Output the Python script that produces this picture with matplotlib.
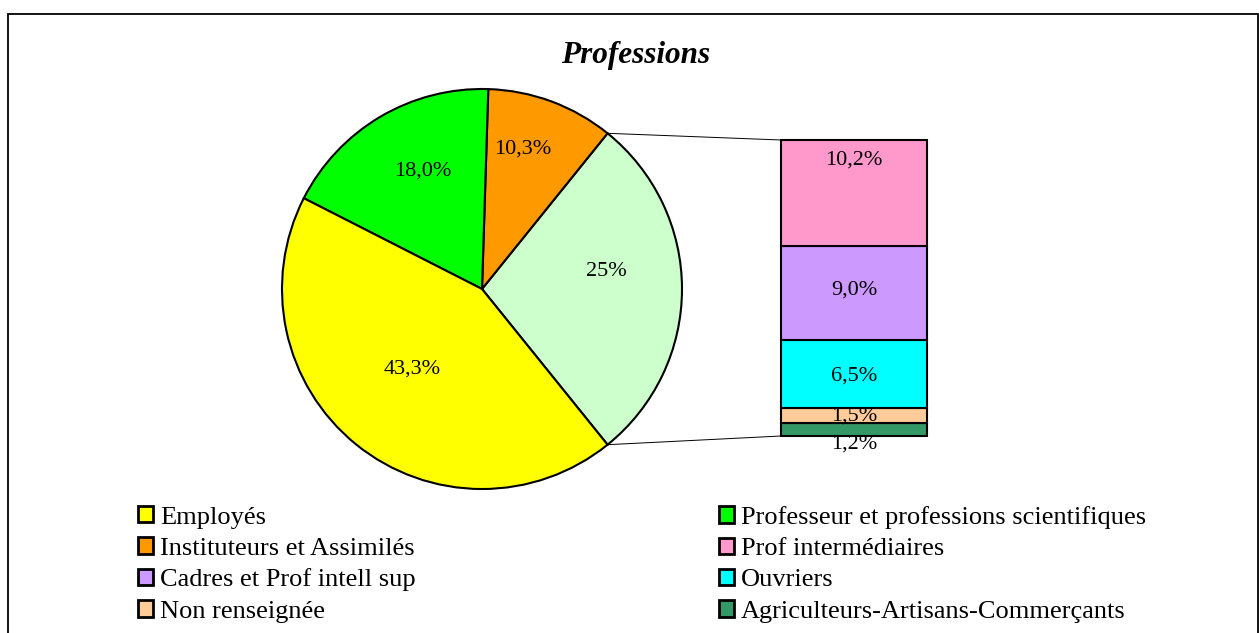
import matplotlib.pyplot as plt
from matplotlib.patches import Patch, Rectangle, ConnectionPatch
import numpy as np

plt.rcParams['font.family'] = ['Liberation Serif', 'DejaVu Serif']

# Pie: "other" slice first, then counter-clockwise
pie_names = ["Autres", "Instituteurs et Assimilés", "Professeur et professions scientifiques", "Employés"]
pie_values = [28.4, 10.3, 18.0, 43.3]
pie_labels = ["25%", "10,3%", "18,0%", "43,3%"]
pie_colors = ["#CCFFCC", "#FF9900", "#00FF00", "#FFFF00"]

# Bar of the "other" slice, bottom to top
bar_names = ["Agriculteurs-Artisans-Commerçants", "Non renseignée", "Ouvriers",
             "Cadres et Prof intell sup", "Prof intermédiaires"]
bar_values = [1.2, 1.5, 6.5, 9.0, 10.2]
bar_labels = ["1,2%", "1,5%", "6,5%", "9,0%", "10,2%"]
bar_colors = ["#339966", "#FFCC99", "#00FFFF", "#CC99FF", "#FF99CC"]

W, H = 1259, 633
fig = plt.figure(figsize=(W / 100, H / 100), dpi=100)

# outer frame (bottom edge runs off the image)
fig.patches.append(Rectangle((8 / W, -0.05), 1250 / W, 1.05 - 14 / H, transform=fig.transFigure,
                             fill=False, edgecolor="black", linewidth=1.3))

fig.text(636 / W, 1 - 55 / H, "Professions", ha="center", va="center",
         fontsize=22.5, fontweight="bold", fontstyle="italic")

# pie
ax = fig.add_axes([282 / W, (H - 489) / H, 400 / W, 400 / H])
start = -pie_values[0] * 3.6 / 2
wedges, _ = ax.pie(pie_values, colors=pie_colors, startangle=start, counterclock=True,
                   wedgeprops=dict(edgecolor="black", linewidth=1.5))
ax.set_xlim(-1, 1)
ax.set_ylim(-1, 1)
ax.set_aspect("equal")
ax.axis("off")

lab_r = [0.63, 0.73, 0.66, 0.53]
lab_da = [8, 4, -4, -2]
for w, txt, r, da in zip(wedges, pie_labels, lab_r, lab_da):
    a = np.deg2rad((w.theta1 + w.theta2) / 2 + da)
    ax.text(r * np.cos(a), r * np.sin(a), txt, ha="center", va="center", fontsize=16)

# stacked bar
bx = fig.add_axes([781 / W, (H - 436) / H, 146 / W, 296 / H])
total = sum(bar_values)
bottom = 0
lab_off = [-14, 0, -2, 3, 33]
for v, c, txt, off in zip(bar_values, bar_colors, bar_labels, lab_off):
    bx.bar(0, v, width=1, bottom=bottom, color=c, edgecolor="black", linewidth=1.5, clip_on=False)
    bx.annotate(txt, (0, bottom + v / 2), xytext=(0, off), textcoords="offset pixels",
                ha="center", va="center", fontsize=16, annotation_clip=False)
    bottom += v
bx.set_xlim(-0.5, 0.5)
bx.set_ylim(0, total)
bx.axis("off")

# connector lines
w0 = wedges[0]
for ang, ytarget in [(w0.theta2, total), (w0.theta1, 0)]:
    a = np.deg2rad(ang)
    con = ConnectionPatch(xyA=(np.cos(a), np.sin(a)), coordsA=ax.transData,
                          xyB=(-0.5, ytarget), coordsB=bx.transData,
                          color="black", linewidth=0.7)
    fig.add_artist(con)

# legend, two columns read row by row
col1 = [("Employés", "#FFFF00"), ("Instituteurs et Assimilés", "#FF9900"),
        ("Cadres et Prof intell sup", "#CC99FF"), ("Non renseignée", "#FFCC99")]
col2 = [("Professeur et professions scientifiques", "#00FF00"), ("Prof intermédiaires", "#FF99CC"),
        ("Ouvriers", "#00FFFF"), ("Agriculteurs-Artisans-Commerçants", "#339966")]
for items, x0 in [(col1, 138), (col2, 719)]:
    handles = [Patch(facecolor=c, edgecolor="black", linewidth=2) for _, c in items]
    fig.legend(handles, [n for n, _ in items], loc="upper left",
               bbox_to_anchor=(x0 / W, 1 - 506 / H), frameon=False, fontsize=19,
               borderpad=0, borderaxespad=0, labelspacing=0.33,
               handlelength=0.58, handleheight=0.58, handletextpad=0.25)

fig.savefig("out.png", dpi=100)
